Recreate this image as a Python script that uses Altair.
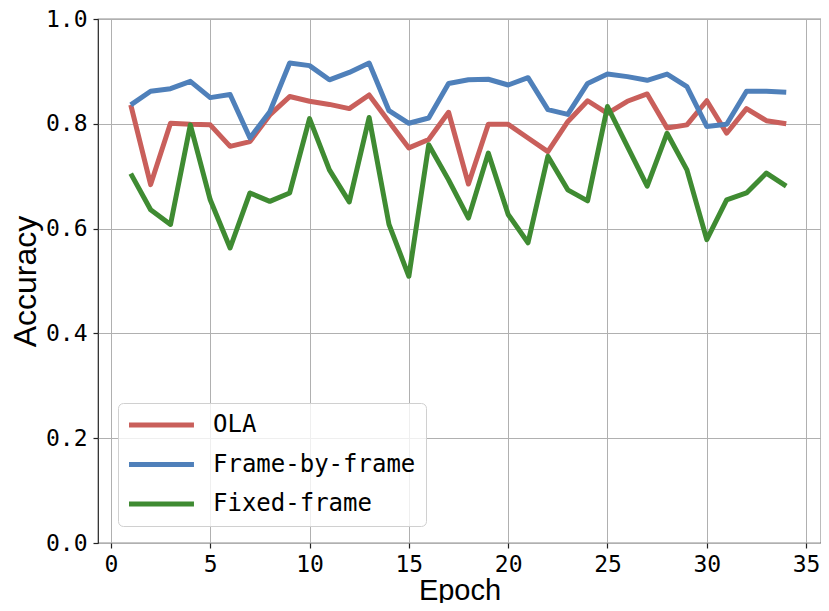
import altair as alt
import pandas as pd

epochs = list(range(1, 35))
ola = [0.836, 0.684, 0.801, 0.799, 0.798, 0.757, 0.766, 0.817, 0.852, 0.843,
       0.837, 0.829, 0.855, 0.804, 0.754, 0.770, 0.822, 0.685, 0.799, 0.799,
       0.773, 0.747, 0.804, 0.844, 0.820, 0.843, 0.857, 0.792, 0.798, 0.844,
       0.782, 0.829, 0.806, 0.800]
frame_by_frame = [0.836, 0.862, 0.867, 0.881, 0.850, 0.856, 0.773, 0.823, 0.916, 0.911,
                  0.884, 0.898, 0.916, 0.825, 0.801, 0.811, 0.877, 0.884, 0.885, 0.874,
                  0.888, 0.827, 0.818, 0.877, 0.895, 0.890, 0.883, 0.895, 0.871, 0.795,
                  0.799, 0.862, 0.862, 0.860]
fixed_frame = [0.705, 0.636, 0.608, 0.798, 0.655, 0.563, 0.668, 0.652, 0.668, 0.810,
               0.712, 0.651, 0.812, 0.608, 0.509, 0.760, 0.693, 0.620, 0.744, 0.627,
               0.573, 0.738, 0.674, 0.653, 0.833, 0.757, 0.681, 0.782, 0.712, 0.579,
               0.655, 0.668, 0.706, 0.681]

series_names = ["OLA", "Frame-by-frame", "Fixed-frame"]
series_colors = ["#c95f5b", "#4f80ba", "#3f8b32"]
x_ticks = [0, 5, 10, 15, 20, 25, 30, 35]
y_ticks = [0.0, 0.2, 0.4, 0.6, 0.8, 1.0]

rows = []
for name, vals in zip(series_names, [ola, frame_by_frame, fixed_frame]):
    for e, v in zip(epochs, vals):
        rows.append({"Epoch": e, "Accuracy": v, "Series": name})
df = pd.DataFrame(rows)

tick_font = "DejaVu Sans Mono"
title_font = "Liberation Sans"

chart = alt.Chart(df).mark_line(strokeWidth=5, strokeJoin="round").encode(
    x=alt.X("Epoch:Q", scale=alt.Scale(domain=[-0.65, 35.75], nice=False, zero=False),
            axis=alt.Axis(values=x_ticks, title="Epoch", format="d",
                          titleFontSize=29, titlePadding=0)),
    y=alt.Y("Accuracy:Q", scale=alt.Scale(domain=[0, 1], nice=False),
            axis=alt.Axis(values=y_ticks, title="Accuracy", format=".1f",
                          titleFontSize=32, titlePadding=3)),
    color=alt.Color("Series:N",
                    scale=alt.Scale(domain=series_names, range=series_colors),
                    legend=alt.Legend(title=None, orient="none", legendX=20, legendY=384,
                                      symbolType="M-1.57,0H7.71", symbolSize=196,
                                      symbolStrokeWidth=5, labelFont=tick_font,
                                      labelFontSize=24, labelColor="#000000",
                                      labelOffset=61, labelLimit=400,
                                      rowPadding=15.5, padding=10,
                                      fillColor="rgba(255,255,255,0.8)",
                                      strokeColor="#d0d0d0", cornerRadius=5)),
    order=alt.Order("Epoch:Q"),
    detail="Series:N",
).properties(
    width=723, height=524,
    autosize=alt.AutoSizeParams(type="none"),
    padding={"left": 90, "top": 11, "right": 0, "bottom": 60},
).configure_view(
    stroke="#222222", strokeWidth=1.2,
).configure_axis(
    grid=True, gridColor="#b0b0b0", gridWidth=1,
    domain=False,
    tickColor="#222222", tickSize=5, tickWidth=1.2,
    labelFont=tick_font, labelFontSize=23, labelColor="#000000",
    titleFont=title_font, titleFontWeight="normal", titleColor="#000000",
).configure_axisX(
    labelPadding=5,
).configure_axisY(
    labelPadding=6,
)

chart.save("out.html", embed_options={"renderer": "svg", "actions": False})
